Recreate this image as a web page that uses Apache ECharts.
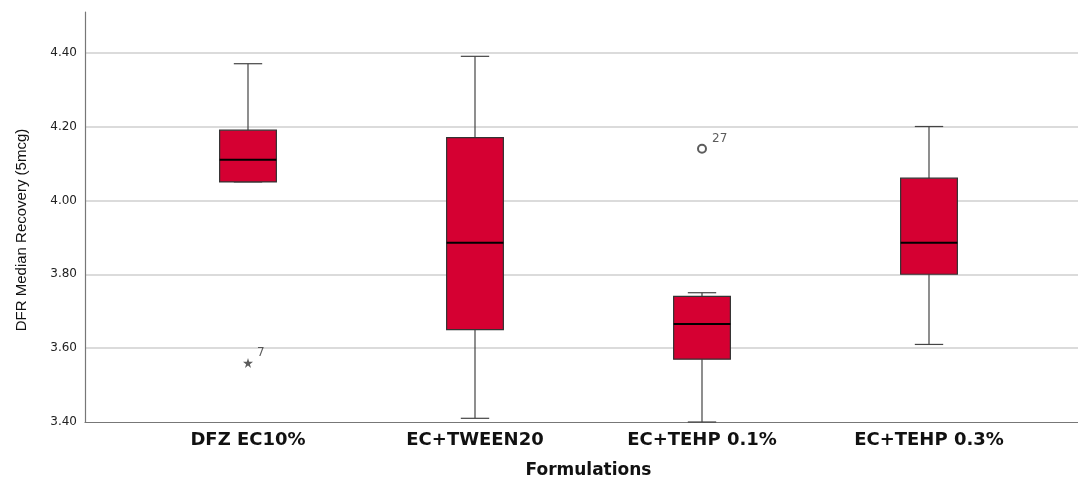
<!DOCTYPE html>
<html><head><meta charset="utf-8">
<script src="https://cdn.jsdelivr.net/npm/echarts@6/dist/echarts.min.js"></script>
<style>html,body{margin:0;padding:0;background:#fff}#c{width:1078px;height:478px}</style>
</head><body><div id="c"></div>
<script>
const categories = ['DFZ EC10%', 'EC+TWEEN20', 'EC+TEHP 0.1%', 'EC+TEHP 0.3%'];
// [lower whisker, Q1, median, Q3, upper whisker]
const lowWhisker = [4.05, 3.41, 3.40, 3.61];
const q1Values   = [4.05, 3.65, 3.57, 3.80];
const medians    = [4.11, 3.885, 3.665, 3.885];
const q3Values   = [4.19, 4.17, 3.74, 4.06];
const highWhisker= [4.37, 4.39, 3.75, 4.20];
// outliers: [category index, value, case label]
const extremeOutliers = [[0, 3.56, '7']];
const mildOutliers = [[2, 4.14, '27']];
const yTicks = [3.40, 3.60, 3.80, 4.00, 4.20, 4.40];

const boxData = categories.map((c, i) => [i, lowWhisker[i], q1Values[i], medians[i], q3Values[i], highWhisker[i]]);

const chart = echarts.init(document.getElementById('c'));
const starPath = 'path://M50,0 L61,35 L98,35 L68,57 L79,91 L50,70 L21,91 L32,57 L2,35 L39,35 Z';

chart.setOption({
  animation: false,
  backgroundColor: '#fff',
  grid: [
    {left: 85, right: 0, top: 12, bottom: 56, containLabel: false, outerBoundsMode: 'none'},
    {left: 134.5, right: 35.5, top: 12, bottom: 56, containLabel: false, outerBoundsMode: 'none'}
  ],
  xAxis: [
    {gridIndex: 0, type: 'category', data: [''], axisLine: {show: true, lineStyle: {color: '#777', width: 1.2}},
     axisTick: {show: false}, axisLabel: {show: false}, splitLine: {show: false}},
    {gridIndex: 1, type: 'category', data: categories, boundaryGap: true,
     axisLine: {show: false}, axisTick: {show: false},
     axisLabel: {margin: 9, color: '#111', fontFamily: 'DejaVu Sans', fontWeight: 'bold', fontSize: 18},
     name: 'Formulations', nameLocation: 'middle', nameGap: 40,
     nameTextStyle: {color: '#111', fontFamily: 'DejaVu Sans', fontWeight: 'bold', fontSize: 17}}
  ],
  yAxis: [
    {gridIndex: 0, type: 'value', min: 3.4, max: 4.51, interval: 0.2,
     axisLine: {show: true, lineStyle: {color: '#777', width: 1.2}}, axisTick: {show: false},
     axisLabel: {margin: 8, color: '#222', fontFamily: 'DejaVu Sans', fontSize: 12, showMaxLabel: false,
       formatter: v => yTicks.some(t => Math.abs(t - v) < 1e-6) ? v.toFixed(2) : ''},
     splitLine: {show: true, showMaxLine: false, showMinLine: false, lineStyle: {color: '#cfcfcf', width: 1.5}},
     name: 'DFR Median Recovery (5mcg)', nameLocation: 'middle', nameRotate: 90, nameGap: 56,
     nameTextStyle: {color: '#111', fontFamily: 'Liberation Sans', fontSize: 15, padding: [0, 26, 0, 0]}},
    {gridIndex: 1, type: 'value', min: 3.4, max: 4.51, interval: 0.2, show: false, splitLine: {show: false}}
  ],
  series: [
    {
      type: 'custom', xAxisIndex: 1, yAxisIndex: 1,
      data: boxData,
      encode: {x: 0, y: [1, 2, 3, 4, 5]},
      renderItem: function (params, api) {
        const idx = api.value(0);
        const band = api.size([1, 0])[0];
        const bw = band * 0.25;
        const cw = bw * 0.5;
        const pLow = api.coord([idx, api.value(1)]);
        const pQ1 = api.coord([idx, api.value(2)]);
        const pMed = api.coord([idx, api.value(3)]);
        const pQ3 = api.coord([idx, api.value(4)]);
        const pHigh = api.coord([idx, api.value(5)]);
        const x = pQ1[0];
        const wStyle = {stroke: '#444', lineWidth: 1.2, fill: null};
        return {
          type: 'group',
          children: [
            {type: 'line', shape: {x1: x, y1: pHigh[1], x2: x, y2: pQ3[1]}, style: wStyle},
            {type: 'line', shape: {x1: x, y1: pQ1[1], x2: x, y2: pLow[1]}, style: wStyle},
            {type: 'line', shape: {x1: x - cw / 2, y1: pHigh[1], x2: x + cw / 2, y2: pHigh[1]}, style: wStyle},
            {type: 'line', shape: {x1: x - cw / 2, y1: pLow[1], x2: x + cw / 2, y2: pLow[1]}, style: wStyle},
            {type: 'rect', shape: {x: x - bw / 2, y: pQ3[1], width: bw, height: pQ1[1] - pQ3[1]},
             style: {fill: '#D50032', stroke: '#333', lineWidth: 1.2}},
            {type: 'line', shape: {x1: x - bw / 2, y1: pMed[1], x2: x + bw / 2, y2: pMed[1]},
             style: {stroke: '#000', lineWidth: 2}}
          ]
        };
      },
      z: 3
    },
    {
      type: 'scatter', xAxisIndex: 1, yAxisIndex: 1,
      data: extremeOutliers, symbol: starPath, symbolSize: 10,
      itemStyle: {color: '#333'},
      label: {show: true, formatter: p => p.data[2], position: 'right', offset: [-1, -10],
        color: '#333', fontFamily: 'DejaVu Sans', fontSize: 12},
      z: 4
    },
    {
      type: 'scatter', xAxisIndex: 1, yAxisIndex: 1,
      data: mildOutliers, symbol: 'emptyCircle', symbolSize: 8,
      itemStyle: {color: '#333', borderWidth: 1.5, borderColor: '#333'},
      label: {show: true, formatter: p => p.data[2], position: 'right', offset: [0, -10],
        color: '#333', fontFamily: 'DejaVu Sans', fontSize: 12},
      z: 4
    }
  ]
});
</script></body></html>
